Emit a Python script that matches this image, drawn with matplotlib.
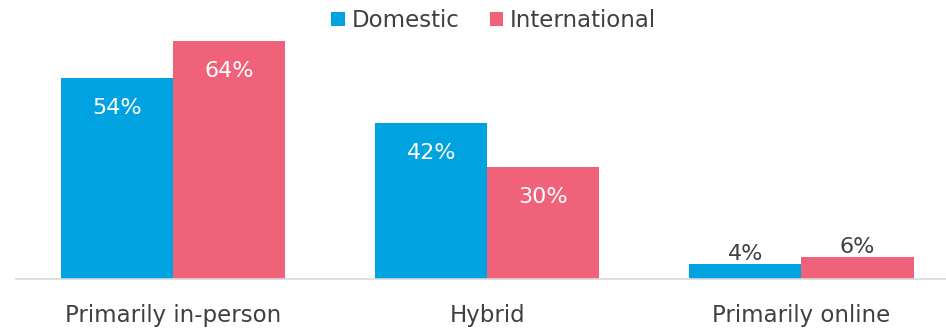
import numpy as np
import matplotlib
matplotlib.use("Agg")
import matplotlib.pyplot as plt

categories = ["Primarily in-person", "Hybrid", "Primarily online"]
domestic = [54, 42, 4]
international = [64, 30, 6]
series_names = ["Domestic", "International"]
colors = ["#00A3E0", "#EF6279"]

plt.rcParams['font.family'] = ['DejaVu Sans']

fig = plt.figure(figsize=(9.46, 3.31), dpi=100)
ax = fig.add_axes([16 / 946, 52 / 331, 930 / 946, 279 / 331])

x = np.arange(len(categories))
w = 0.357
b1 = ax.bar(x - w / 2, domestic, w, color=colors[0], label=series_names[0])
b2 = ax.bar(x + w / 2, international, w, color=colors[1], label=series_names[1])

# value labels: inside for big bars, above for small ones
for bars in (b1, b2):
    for r in bars:
        v = r.get_height()
        cx = r.get_x() + r.get_width() / 2
        if v > 15:
            ax.text(cx, v - 8, f"{v:.0f}%", ha="center", va="center",
                    color="white", fontsize=16)
        else:
            ax.text(cx, v + 2.7, f"{v:.0f}%", ha="center", va="center",
                    color="#404040", fontsize=16)

ax.set_xlim(-0.5, 2.46)
ax.set_ylim(0, 75)
ax.set_xticks(x)
ax.set_xticklabels(categories, fontsize=16.5, color="#404040")
ax.tick_params(axis="x", length=0, pad=18)
ax.set_yticks([])
for s in ("top", "right", "left"):
    ax.spines[s].set_visible(False)
ax.spines["bottom"].set_color("#D9D9D9")
ax.spines["bottom"].set_linewidth(1.2)

fig.legend(loc="upper center", bbox_to_anchor=(0.522, 1.035), ncol=2,
           frameon=False, fontsize=16.5, handlelength=0.6, handleheight=0.6,
           handletextpad=0.3, columnspacing=1.3, labelcolor="#404040")

fig.savefig("out.png", dpi=100)
